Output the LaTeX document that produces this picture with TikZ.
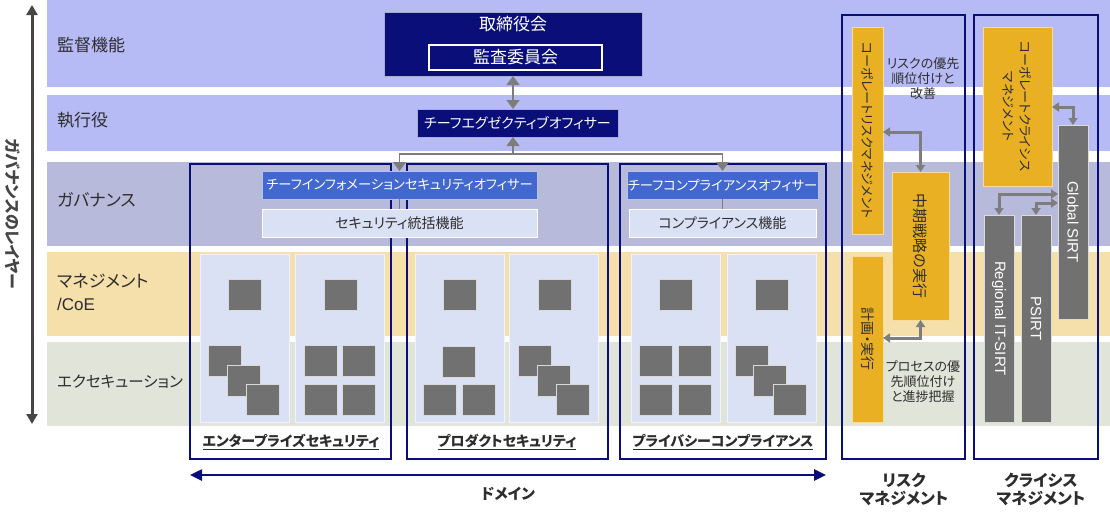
\documentclass[tikz,border=0pt]{standalone}
\usepackage{fontspec}
\setmainfont{Noto Sans CJK JP}[RawFeature={+palt}]
\newfontfamily\lat{Liberation Sans}
\usetikzlibrary{arrows.meta}
\definecolor{bandA}{RGB}{183,187,245}
\definecolor{bandG}{RGB}{184,186,219}
\definecolor{bandM}{RGB}{245,223,170}
\definecolor{bandE}{RGB}{225,228,216}
\definecolor{navy}{RGB}{10,14,120}
\definecolor{cblue}{RGB}{66,104,207}
\definecolor{pale}{RGB}{218,225,245}
\definecolor{sq}{RGB}{113,113,113}
\definecolor{gold}{RGB}{233,176,36}
\definecolor{connc}{RGB}{125,125,125}
\definecolor{txtd}{RGB}{45,45,45}
\definecolor{axc}{RGB}{70,70,70}
\newcommand\mkbox[7]{\node[inner sep=0pt,outer sep=0pt,minimum width={(#4-#2)*1pt},minimum height={(#5-#3)*1pt},#6] (#1) at ({(#2+#4)/2},{(#3+#5)/2}) {#7};}
\newcommand\sqr[3]{\mkbox{#1}{#2}{#3}{#2+33}{#3+31}{sqbox}{}}
\newcommand\fsz[2]{\fontsize{#1pt}{#2pt}\selectfont}
\tikzset{
  gtip/.tip={Triangle[width=13pt,length=9pt]},
  stip/.tip={Triangle[width=9pt,length=7pt]},
  atip/.tip={Triangle[width=11pt,length=10pt]},
  ntip/.tip={Triangle[width=11pt,length=12pt]},
  rowlab/.style={anchor=west, text=txtd, font=\fsz{17}{23}, align=left, inner sep=0pt},
  navybox/.style={fill=navy, draw=navy!35!white, line width=0.8pt},
  auditbox/.style={fill=navy, draw=white, line width=2pt, text=white, font=\fsz{17}{20}},
  ceobox/.style={navybox, text=white, font=\fsz{14}{17}},
  bluebox/.style={fill=cblue, draw=cblue!40!white, line width=0.8pt, text=white, font=\fsz{13.3}{16}},
  funcbox/.style={fill=pale, draw=white, line width=0.8pt, text=txtd, font=\fsz{14}{17}},
  panel/.style={fill=pale, draw=white!60!pale, line width=0.8pt},
  sqbox/.style={fill=sq, draw=white!85!black, line width=0.8pt},
  goldbox/.style={fill=gold, draw=white!55!gold, line width=0.8pt},
  greybox/.style={fill=sq, draw=white!75!sq, line width=0.8pt},
  vtext/.style={rotate=-90, inner sep=0pt, text=txtd, font=\fsz{13}{17}, align=center},
  vlat/.style={rotate=-90, inner sep=0pt, text=white, font=\lat\fsz{15}{17}},
  frame/.style={draw=navy, line width=2pt},
  note/.style={align=center, text=txtd, font=\fsz{13}{15}, inner sep=0pt},
  dlab/.style={text=txtd, font=\bfseries\fsz{14}{17}, inner sep=0pt},
  blab/.style={text=txtd, font=\bfseries\fsz{16}{18}, align=center, inner sep=0pt},
  conn/.style={draw=connc, line width=1.5pt},
  rconn/.style={draw=connc, line width=3pt},
}
\begin{document}
\begin{tikzpicture}[x=1pt,y=-1pt]
\useasboundingbox (0,0) rectangle (1110,514);
\fill[white] (0,0) rectangle (1110,514);
% layer bands
\fill[bandA] (47,0) rectangle (1110,87);
\fill[bandA] (47,95) rectangle (1110,151);
\fill[bandG] (47,162) rectangle (1110,246);
\fill[bandM] (47,252) rectangle (1110,336);
\fill[bandE] (47,342) rectangle (1110,426);
% axis
\coordinate (axt) at (32,5);
\coordinate (axb) at (32,424);
\draw[draw=axc, line width=3pt, atip-atip] (axt) -- (axb);
\node[rotate=-90, text=axc, font=\bfseries\fsz{16}{18}, inner sep=0pt] (axl) at (13,214) {ガバナンスのレイヤー};
% row labels
\node[rowlab] (r1) at (57,45) {監督機能};
\node[rowlab] (r2) at (57,120) {執行役};
\node[rowlab] (r3) at (57,200) {ガバナンス};
\node[rowlab] (r4) at (57,292) {マネジメント\\{\lat /CoE}};
\node[rowlab, font=\fsz{15.5}{19}] (r5) at (57,382) {エクセキューション};
% frames
\mkbox{entf}{190}{164}{391}{459}{frame}{}
\mkbox{prdf}{407}{164}{608}{459}{frame}{}
\mkbox{prvf}{620}{164}{826}{459}{frame}{}
\mkbox{rskf}{842}{15}{965}{459}{frame}{}
\mkbox{crsf}{974}{15}{1098}{459}{frame}{}
% top boxes
\mkbox{board}{384}{12}{642}{76}{navybox}{}
\node[text=white, font=\fsz{17}{20}, inner sep=0pt] (boardl) at (513,24) {取締役会};
\mkbox{audit}{429}{45}{602}{70}{auditbox}{監査委員会}
\mkbox{ceo}{417}{109}{618}{137}{ceobox}{チーフエグゼクティブオフィサー}
\mkbox{ciso}{262}{171}{537}{199}{bluebox}{チーフインフォメーションセキュリティオフィサー}
\mkbox{secf}{262}{209}{537}{237}{funcbox}{セキュリティ統括機能}
\mkbox{cco}{627}{171}{818}{199}{bluebox}{チーフコンプライアンスオフィサー}
\mkbox{comf}{629}{209}{816}{237}{funcbox}{コンプライアンス機能}
% panels
\mkbox{pe1}{200}{254}{289}{422}{panel}{}
\mkbox{pe2}{295}{254}{384}{422}{panel}{}
\mkbox{pp1}{415}{254}{504}{422}{panel}{}
\mkbox{pp2}{509}{254}{598}{422}{panel}{}
\mkbox{pv1}{631}{254}{720}{422}{panel}{}
\mkbox{pv2}{727}{254}{816}{422}{panel}{}
% squares
\sqr{s1}{228}{279}\sqr{s2}{208}{345}\sqr{s3}{227}{365}\sqr{s4}{246}{384}
\sqr{s5}{324}{279}\sqr{s6}{304}{345}\sqr{s7}{342}{345}\sqr{s8}{304}{384}\sqr{s9}{342}{384}
\sqr{s10}{443}{279}\sqr{s11}{442}{346}\sqr{s12}{423}{384}\sqr{s13}{462}{384}
\sqr{s14}{538}{279}\sqr{s15}{518}{345}\sqr{s16}{537}{365}\sqr{s17}{556}{384}
\sqr{s18}{659}{279}\sqr{s19}{639}{345}\sqr{s20}{678}{345}\sqr{s21}{639}{384}\sqr{s22}{678}{384}
\sqr{s23}{755}{279}\sqr{s24}{735}{345}\sqr{s25}{753}{365}\sqr{s26}{773}{384}
% domain labels
\node[dlab] (de) at (291,442) {\underline{エンタープライズセキュリティ}};
\node[dlab] (dp) at (507,442) {\underline{プロダクトセキュリティ}};
\node[dlab] (dv) at (723,442) {\underline{プライバシーコンプライアンス}};
\coordinate (doml) at (190,475);
\coordinate (domr) at (826,475);
\draw[draw=navy, line width=2.5pt, ntip-ntip] (doml) -- (domr);
\node[text=txtd, font=\bfseries\fsz{15}{18}, inner sep=0pt] (dom) at (508,494) {ドメイン};
% governance connectors
\draw[conn, gtip-gtip] (board.south) -- (board.south |- ceo.north);
\coordinate (hub) at (513,154);
\draw[conn, -gtip] (hub) -- (hub |- ceo.south);
\draw[conn, -gtip] (hub) -| (ciso.north);
\draw[conn, -gtip] (hub) -| (cco.north);
\draw[conn] (ciso.south) -- (secf.north);
\draw[conn] (cco.south) -- (comf.north);
% risk management column
\mkbox{crm}{852}{27}{883}{234}{goldbox}{}
\node[vtext] (crmt) at (crm) {コーポレートリスクマネジメント};
\mkbox{mid}{892}{172}{949}{320}{goldbox}{}
\node[vtext, font=\fsz{15}{18}] (midt) at (mid) {中期戦略の実行};
\mkbox{plan}{852}{256}{883}{422}{goldbox}{}
\node[vtext, font=\fsz{14}{17}] (plant) at (plan) {計画・実行};
\node[note] (rn1) at (923,79) {リスクの優先\\順位付けと\\改善};
\node[note] (rn2) at (923,382) {プロセスの優\\先順位付け\\と進捗把握};
\coordinate (ry1) at (0,132);
\coordinate (ry2) at (0,338);
\draw[rconn, stip-stip] (crm.east |- ry1) -| (mid.north);
\draw[rconn, stip-stip] (mid.south) |- (plan.east |- ry2);
\node[blab] (rml) at (904,489) {リスク\\マネジメント};
% crisis management column
\mkbox{ccm}{983}{27}{1052}{186}{goldbox}{}
\node[vtext] (ccmt) at (ccm) {コーポレートクライシス\\マネジメント};
\mkbox{gsirt}{1058}{125}{1088}{319}{greybox}{}
\node[vlat] (gsirtt) at (gsirt) {Global SIRT};
\mkbox{rsirt}{984}{215}{1014}{422}{greybox}{}
\node[vlat] (rsirtt) at (rsirt) {Regional IT-SIRT};
\mkbox{psirt}{1021}{215}{1051}{422}{greybox}{}
\node[vlat] (psirtt) at (psirt) {PSIRT};
\coordinate (cy1) at (0,107);
\coordinate (cy2) at (0,194);
\coordinate (cy3) at (0,203);
\draw[rconn, stip-stip] (ccm.east |- cy1) -| (gsirt.north);
\draw[rconn, stip-stip] (gsirt.west |- cy2) -| (rsirt.north);
\draw[rconn, stip-stip] (gsirt.west |- cy3) -| (psirt.north);
\node[blab] (cml) at (1041,489) {クライシス\\マネジメント};
\end{tikzpicture}
\end{document}
